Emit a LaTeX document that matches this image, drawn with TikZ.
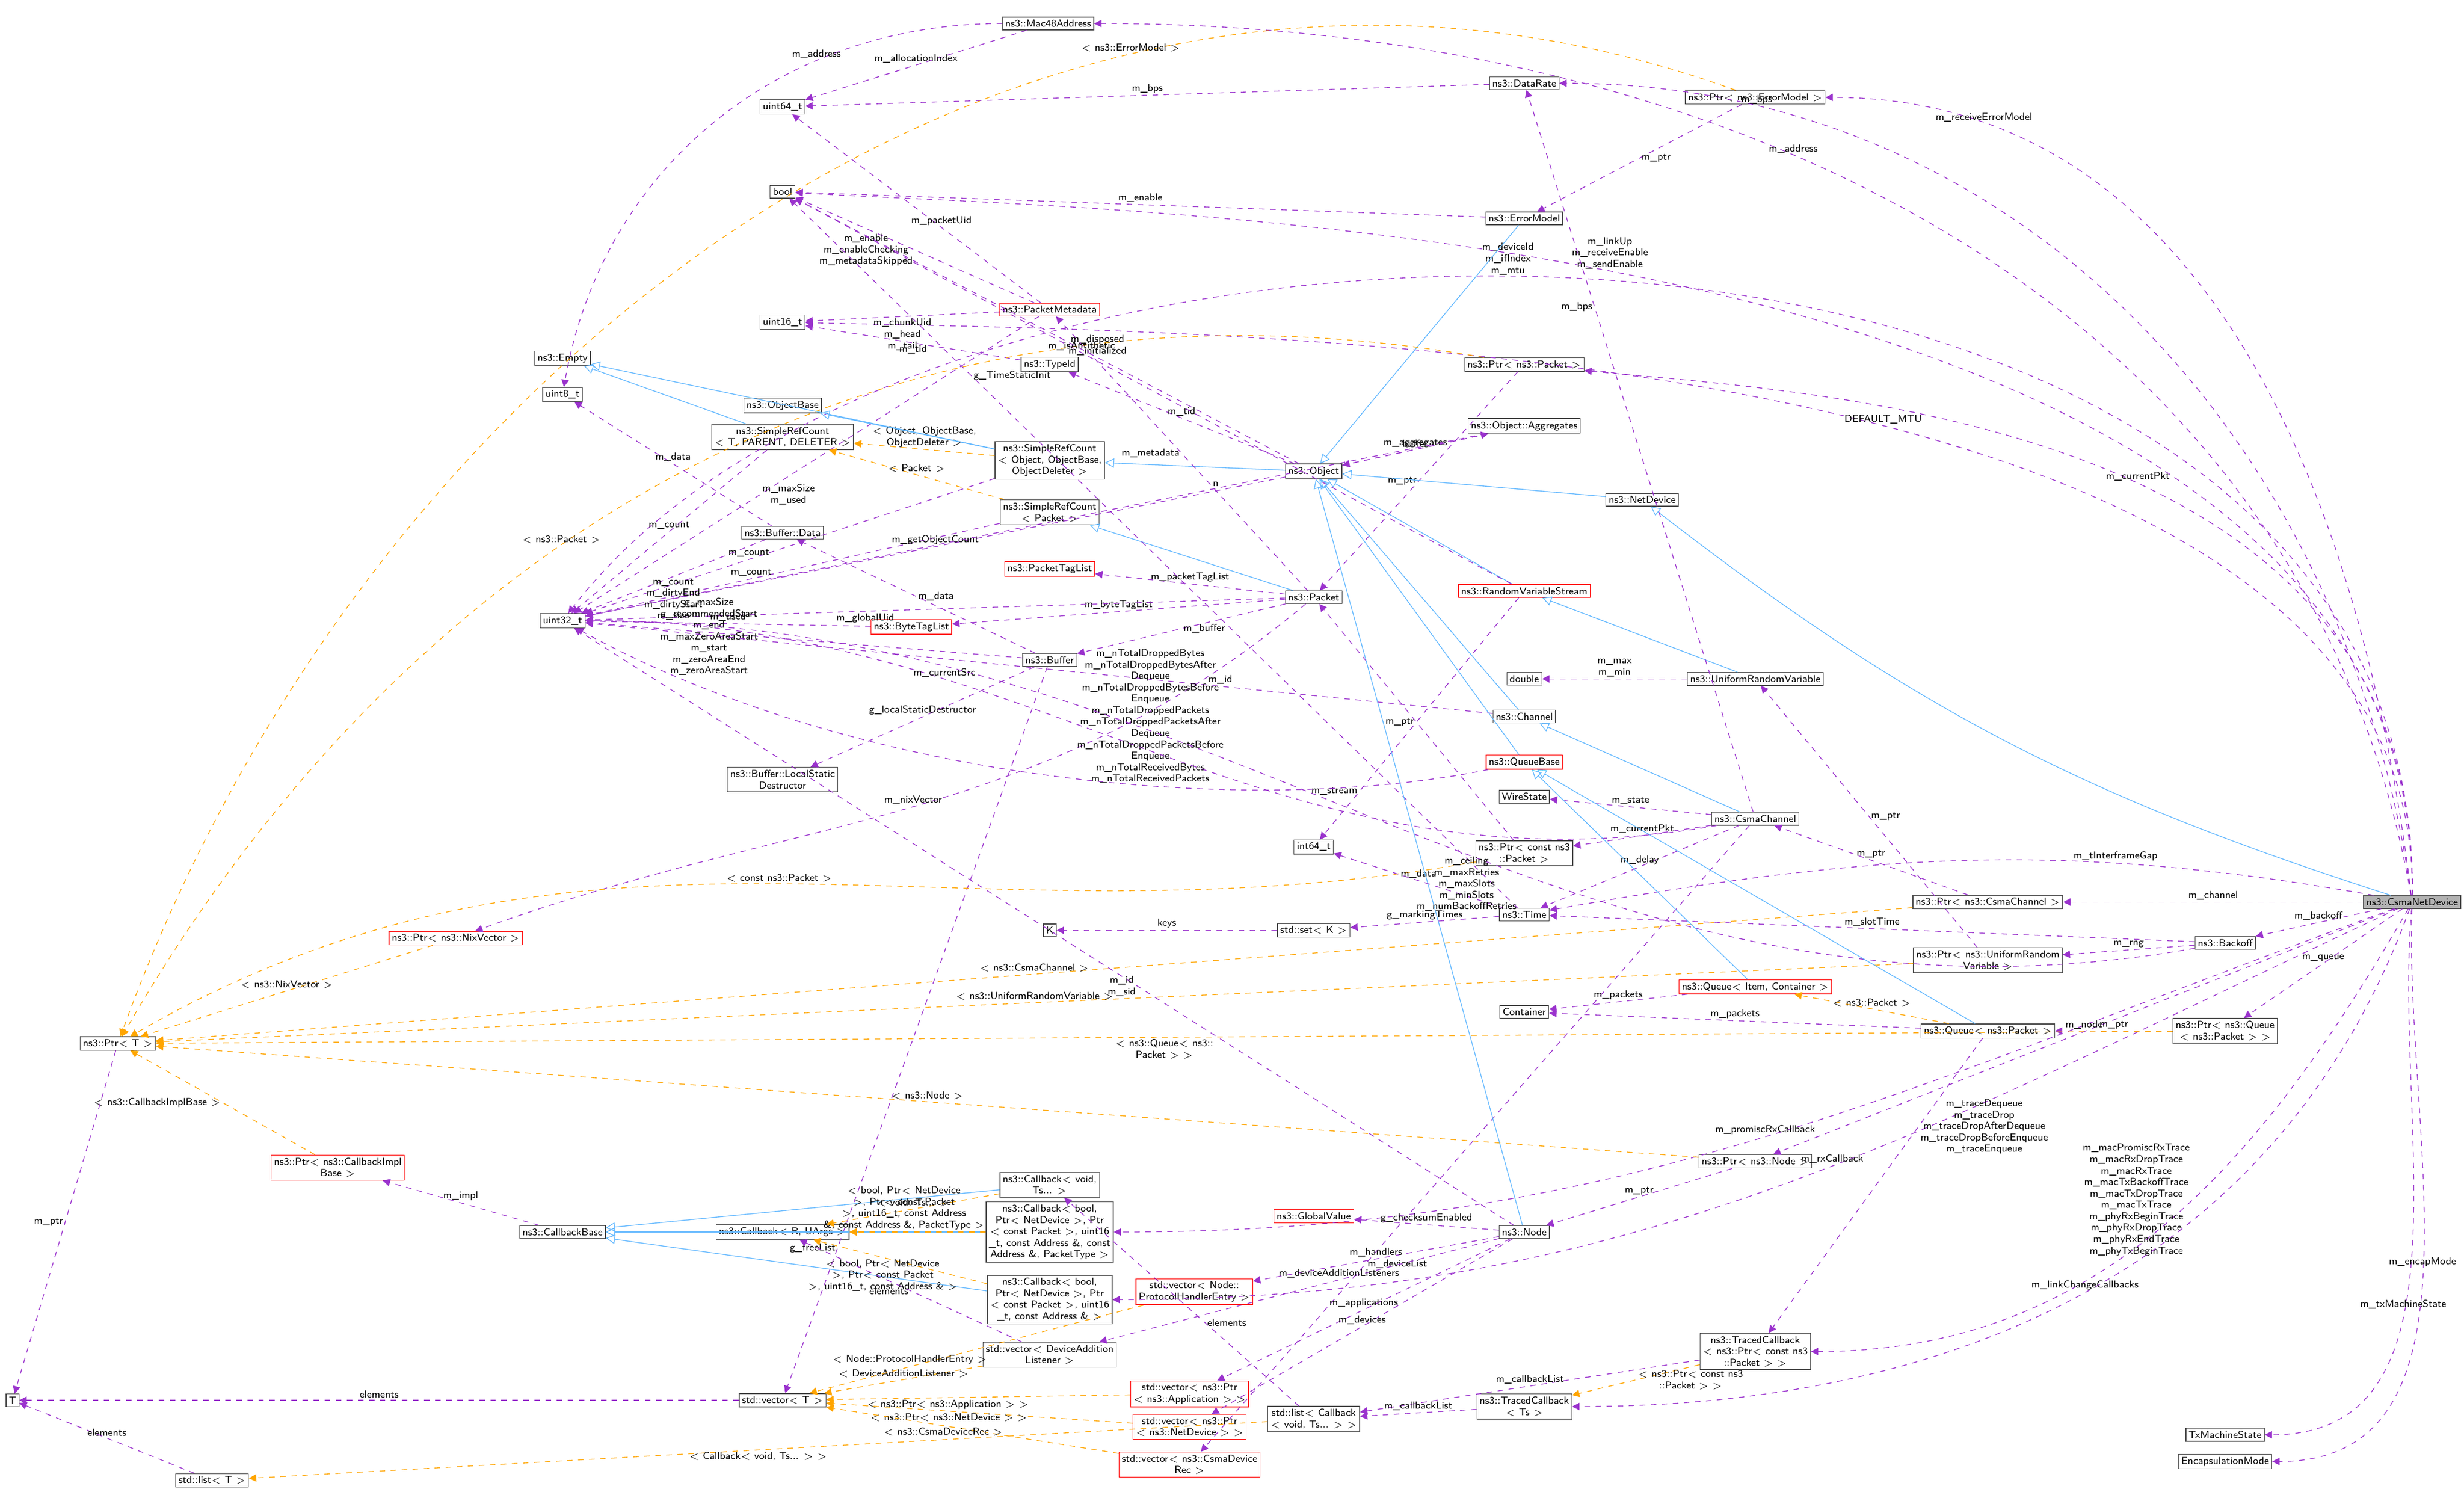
\documentclass[tikz,border=0pt]{standalone}
\usepackage{tikz}
\usetikzlibrary{arrows.meta}
\definecolor{usecol}{HTML}{9A32CD}
\definecolor{inhcol}{HTML}{63B8FF}
\definecolor{tplcol}{HTML}{FFA500}
\begin{document}
\begin{tikzpicture}[x=0.03cm,y=-0.03cm,
    cls/.style={draw=gray!60!black,rectangle,inner sep=1.5pt,align=center,thin,
                font=\sffamily\fontsize{5.5}{6.2}\selectfont},
    red cls/.style={cls,draw=red},
    lbl/.style={font=\sffamily\fontsize{5.5}{6.2}\selectfont,align=center,inner sep=1pt},
    use/.style={draw=usecol,dashed,-{Triangle[length=4pt,width=4pt]}},
    inh/.style={draw=inhcol,-{Triangle[open,length=5pt,width=5pt]}},
    tpl/.style={draw=tplcol,dashed,-{Triangle[length=4pt,width=4pt]}}]
  \useasboundingbox (0,0) rectangle (1568,957);

  % classes
  \node[cls,fill=gray!60] (csma) at (1535,574) {ns3::CsmaNetDevice};
  \node[cls] (mac) at (667,15) {ns3::Mac48Address};
  \node[cls] (rate) at (970,53) {ns3::DataRate};
  \node[cls] (perr) at (1117,62) {ns3::Ptr$<$ ns3::ErrorModel $>$};
  \node[cls] (u64) at (498,68) {uint64\_t};
  \node[cls] (bool) at (498,122) {bool};
  \node[cls] (err) at (970,139) {ns3::ErrorModel};
  \node[red cls] (meta) at (668,197) {ns3::PacketMetadata};
  \node[cls] (u16) at (498,205) {uint16\_t};
  \node[cls] (tid) at (668,232) {ns3::TypeId};
  \node[cls] (empty) at (358,228) {ns3::Empty};
  \node[cls] (ppkt) at (970,232) {ns3::Ptr$<$ ns3::Packet $>$};
  \node[cls] (u8) at (358,251) {uint8\_t};
  \node[cls] (objbase) at (498,258) {ns3::ObjectBase};
  \node[cls] (srct) at (498,278) {ns3::SimpleRefCount\\$<$ T, PARENT, DELETER $>$};
  \node[cls] (srco) at (668,293) {ns3::SimpleRefCount\\$<$ Object, ObjectBase,\\ObjectDeleter $>$};
  \node[cls] (obj) at (836,300) {ns3::Object};
  \node[cls] (aggr) at (970,271) {ns3::Object::Aggregates};
  \node[cls] (netdev) at (1045,318) {ns3::NetDevice};
  \node[cls] (srcp) at (668,326) {ns3::SimpleRefCount\\$<$ Packet $>$};
  \node[cls] (bdata) at (498,339) {ns3::Buffer::Data};
  \node[red cls] (ptl) at (668,362) {ns3::PacketTagList};
  \node[cls] (pkt) at (836,380) {ns3::Packet};
  \node[red cls] (rvs) at (970,376) {ns3::RandomVariableStream};
  \node[cls] (u32) at (358,395) {uint32\_t};
  \node[red cls] (btl) at (580,399) {ns3::ByteTagList};
  \node[cls] (buf) at (668,420) {ns3::Buffer};
  \node[cls] (dbl) at (970,432) {double};
  \node[cls] (urv) at (1117,432) {ns3::UniformRandomVariable};
  \node[cls] (chan) at (970,456) {ns3::Channel};
  \node[red cls] (qbase) at (970,485) {ns3::QueueBase};
  \node[cls] (lsd) at (498,496) {ns3::Buffer::LocalStatic\\Destructor};
  \node[cls] (wire) at (970,507) {WireState};
  \node[cls] (cchan) at (1117,521) {ns3::CsmaChannel};
  \node[cls] (i64) at (836,539) {int64\_t};
  \node[cls] (pcpkt) at (970,543) {ns3::Ptr$<$ const ns3\\::Packet $>$};
  \node[cls] (time) at (970,582) {ns3::Time};
  \node[cls] (pcchan) at (1265,574) {ns3::Ptr$<$ ns3::CsmaChannel $>$};
  \node[cls] (k) at (668,592) {K};
  \node[cls] (setk) at (836,592) {std::set$<$ K $>$};
  \node[red cls] (pnix) at (290,597) {ns3::Ptr$<$ ns3::NixVector $>$};
  \node[cls] (backoff) at (1416,600) {ns3::Backoff};
  \node[cls] (purv) at (1265,611) {ns3::Ptr$<$ ns3::UniformRandom\\Variable $>$};
  \node[red cls] (qic) at (1117,628) {ns3::Queue$<$ Item, Container $>$};
  \node[cls] (ptrt) at (75,664) {ns3::Ptr$<$ T $>$};
  \node[cls] (cont) at (970,644) {Container};
  \node[cls] (qpkt) at (1265,656) {ns3::Queue$<$ ns3::Packet $>$};
  \node[cls] (pq) at (1416,656) {ns3::Ptr$<$ ns3::Queue\\$<$ ns3::Packet $>$ $>$};
  \node[cls] (pnode) at (1117,739) {ns3::Ptr$<$ ns3::Node $>$};
  \node[red cls] (pcib) at (215,743) {ns3::Ptr$<$ ns3::CallbackImpl\\Base $>$};
  \node[cls] (cbv) at (668,754) {ns3::Callback$<$ void,\\Ts... $>$};
  \node[red cls] (gval) at (836,774) {ns3::GlobalValue};
  \node[cls] (cbase) at (358,784) {ns3::CallbackBase};
  \node[cls] (cbr) at (498,784) {ns3::Callback$<$ R, UArgs $>$};
  \node[cls] (cbpt) at (668,784) {ns3::Callback$<$ bool,\\Ptr$<$ NetDevice $>$, Ptr\\$<$ const Packet $>$, uint16\\\_t, const Address \&, const\\Address \&, PacketType $>$};
  \node[cls] (node) at (970,784) {ns3::Node};
  \node[red cls] (vph) at (760,822) {std::vector$<$ Node::\\ProtocolHandlerEntry $>$};
  \node[cls] (cbad) at (668,827) {ns3::Callback$<$ bool,\\Ptr$<$ NetDevice $>$, Ptr\\$<$ const Packet $>$, uint16\\\_t, const Address \& $>$};
  \node[cls] (vdal) at (668,862) {std::vector$<$ DeviceAddition\\Listener $>$};
  \node[cls] (tcp) at (1117,860) {ns3::TracedCallback\\$<$ ns3::Ptr$<$ const ns3\\::Packet $>$ $>$};
  \node[red cls] (vapp) at (757,887) {std::vector$<$ ns3::Ptr\\$<$ ns3::Application $>$ $>$};
  \node[cls] (vect) at (498,891) {std::vector$<$ T $>$};
  \node[cls] (t) at (8,891) {T};
  \node[cls] (tcts) at (970,895) {ns3::TracedCallback\\$<$ Ts $>$};
  \node[cls] (lcb) at (836,903) {std::list$<$ Callback\\$<$ void, Ts... $>$ $>$};
  \node[red cls] (vdev) at (757,908) {std::vector$<$ ns3::Ptr\\$<$ ns3::NetDevice $>$ $>$};
  \node[red cls] (vrec) at (757,932) {std::vector$<$ ns3::CsmaDevice\\Rec $>$};
  \node[cls] (listt) at (135,942) {std::list$<$ T $>$};
  \node[cls] (txms) at (1416,913) {TxMachineState};
  \node[cls] (encap) at (1416,930) {EncapsulationMode};

  % CsmaNetDevice members
  \draw[inh] (csma) to[bend left=10] (netdev);
  \draw[use] (csma) to[out=100,in=0] node[lbl,pos=0.6,above] {m\_address} (mac);
  \draw[use] (csma) to[out=98,in=0] node[lbl,pos=0.85,above] {m\_bps} (rate);
  \draw[use] (csma) to[out=97,in=0] node[lbl,pos=0.85,above] {m\_receiveErrorModel} (perr);
  \draw[use] (csma) .. controls (1540,80) and (600,80) .. node[lbl,pos=0.55,above] {m\_deviceId\\m\_ifIndex\\m\_mtu} (u32);
  \draw[use] (csma) .. controls (1540,135) and (700,135) .. node[lbl,pos=0.55,above] {m\_linkUp\\m\_receiveEnable\\m\_sendEnable} (bool);
  \draw[use] (csma) .. controls (1540,212) and (800,212) .. node[lbl,pos=0.45,above] {DEFAULT\_MTU} (u16);
  \draw[use] (csma) .. controls (1540,264) and (1150,250) .. node[lbl,pos=0.45,above] {m\_currentPkt} (ppkt);
  \draw[use] (csma) to[out=170,in=10] node[lbl,pos=0.3,above] {m\_tInterframeGap} (time);
  \draw[use] (csma) -- node[lbl,above] {m\_channel} (pcchan);
  \draw[use] (csma) -- node[lbl,above] {m\_backoff} (backoff);
  \draw[use] (csma) -- node[lbl,above] {m\_queue} (pq);
  \draw[use] (csma) to[out=200,in=0] node[lbl,pos=0.5,above] {m\_promiscRxCallback} (cbpt);
  \draw[use] (csma) -- node[lbl,above] {m\_node} (pnode);
  \draw[use] (csma) to[out=205,in=0] node[lbl,pos=0.45,above] {m\_rxCallback} (cbad);
  \draw[use] (csma) to[out=240,in=0] node[lbl,pos=0.45,left] {m\_macPromiscRxTrace\\m\_macRxDropTrace\\m\_macRxTrace\\m\_macTxBackoffTrace\\m\_macTxDropTrace\\m\_macTxTrace\\m\_phyRxBeginTrace\\m\_phyRxDropTrace\\m\_phyRxEndTrace\\m\_phyTxBeginTrace} (tcp);
  \draw[use] (csma) to[out=250,in=0] node[lbl,pos=0.5,above] {m\_linkChangeCallbacks} (tcts);
  \draw[use] (csma) to[out=265,in=0] node[lbl,pos=0.6,above] {m\_txMachineState} (txms);
  \draw[use] (csma) to[out=268,in=0] node[lbl,pos=0.5,above] {m\_encapMode} (encap);

  % upper part
  \draw[use] (mac) to[out=180,in=80] node[lbl,pos=0.3,above] {m\_address} (u8);
  \draw[use] (mac) -- node[lbl,above] {m\_allocationIndex} (u64);
  \draw[use] (rate) -- node[lbl,above] {m\_bps} (u64);
  \draw[use] (perr) -- node[lbl,right] {m\_ptr} (err);
  \draw[tpl] (perr) to[out=160,in=70] node[lbl,pos=0.3,above] {$<$ ns3::ErrorModel $>$} (ptrt);
  \draw[use] (err) -- node[lbl,above] {m\_enable} (bool);
  \draw[inh] (err) -- (obj);
  \draw[use] (meta) -- node[lbl,left] {m\_enable\\m\_enableChecking\\m\_metadataSkipped} (bool);
  \draw[use] (meta) -- node[lbl,above,pos=0.4] {m\_packetUid} (u64);
  \draw[use] (meta) -- node[lbl,below] {m\_chunkUid\\m\_head\\m\_tail} (u16);
  \draw[use] (meta) -- node[lbl,right,pos=0.6] {m\_maxSize\\m\_used} (u32);
  \draw[use] (tid) -- node[lbl,below] {m\_tid} (u16);
  \draw[use] (ppkt) -- node[lbl,left] {m\_ptr} (pkt);
  \draw[tpl] (ppkt) to[out=170,in=60] node[lbl,pos=0.6,above] {$<$ ns3::Packet $>$} (ptrt);
  \draw[inh] (srct) -- (empty);
  \draw[use] (srct) -- node[lbl,above] {m\_count} (u32);
  \draw[tpl] (srco) -- node[lbl,above] {$<$ Object, ObjectBase,\\ObjectDeleter $>$} (srct);
  \draw[inh] (srco) -- (objbase);
  \draw[inh] (srco) -- (empty);
  \draw[use] (srco) -- node[lbl,above,pos=0.6] {m\_count} (u32);
  \draw[tpl] (srcp) -- node[lbl,above] {$<$ Packet $>$} (srct);
  \draw[use] (srcp) -- node[lbl,above,pos=0.6] {m\_count} (u32);
  \draw[inh] (obj) -- (srco);
  \draw[use] (obj) -- node[lbl,above,pos=0.4] {m\_disposed\\m\_initialized} (bool);
  \draw[use] (obj) -- node[lbl,above] {m\_tid} (tid);
  \draw[use] (obj) -- node[lbl,above] {m\_aggregates} (aggr);
  \draw[use] (obj) -- node[lbl,above,pos=0.5] {m\_getObjectCount} (u32);
  \draw[use] (aggr) -- node[lbl,above] {buffer} (obj);
  \draw[use] (aggr) -- node[lbl,above,pos=0.3] {n} (u32);
  \draw[inh] (netdev) -- (obj);
  \draw[use] (bdata) -- node[lbl,above] {m\_data} (u8);
  \draw[use] (bdata) -- node[lbl,below] {m\_count\\m\_dirtyEnd\\m\_dirtyStart\\m\_size} (u32);

  % packet and buffers
  \draw[inh] (pkt) -- (srcp);
  \draw[use] (pkt) -- node[lbl,above] {m\_packetTagList} (ptl);
  \draw[use] (pkt) -- node[lbl,above] {m\_byteTagList} (btl);
  \draw[use] (pkt) -- node[lbl,right] {m\_buffer} (buf);
  \draw[use] (pkt) -- node[lbl,left] {m\_metadata} (meta);
  \draw[use] (pkt) -- node[lbl,below,pos=0.6] {m\_globalUid} (u32);
  \draw[use] (pkt) to[out=220,in=20] node[lbl,pos=0.5,above] {m\_nixVector} (pnix);
  \draw[use] (btl) -- node[lbl,above] {m\_used} (u32);
  \draw[use] (buf) -- node[lbl,right] {m\_data} (bdata);
  \draw[use] (buf) -- node[lbl,left,pos=0.6] {g\_maxSize\\g\_recommendedStart\\m\_end\\m\_maxZeroAreaStart\\m\_start\\m\_zeroAreaEnd\\m\_zeroAreaStart} (u32);
  \draw[use] (buf) -- node[lbl,above] {g\_localStaticDestructor} (lsd);
  \draw[use] (buf) -- node[lbl,left,pos=0.8] {g\_freeList} (vect);
  \draw[inh] (rvs) -- (obj);
  \draw[use] (rvs) -- node[lbl,above,pos=0.6] {m\_isAntithetic} (bool);
  \draw[use] (rvs) -- node[lbl,left,pos=0.8] {m\_stream} (i64);
  \draw[inh] (urv) -- (rvs);
  \draw[use] (urv) -- node[lbl,above] {m\_max\\m\_min} (dbl);
  \draw[inh] (chan) -- (obj);
  \draw[use] (chan) -- node[lbl,above,pos=0.3] {m\_id} (u32);
  \draw[inh] (qbase) -- (obj);
  \draw[use] (qbase) .. controls (800,520) and (550,500) .. node[lbl,pos=0.4,above] {m\_nTotalDroppedBytes\\m\_nTotalDroppedBytesAfter\\Dequeue\\m\_nTotalDroppedBytesBefore\\Enqueue\\m\_nTotalDroppedPackets\\m\_nTotalDroppedPacketsAfter\\Dequeue\\m\_nTotalDroppedPacketsBefore\\Enqueue\\m\_nTotalReceivedBytes\\m\_nTotalReceivedPackets} (u32);

  % channel side
  \draw[inh] (cchan) -- (chan);
  \draw[use] (cchan) -- node[lbl,above] {m\_state} (wire);
  \draw[use] (cchan) -- node[lbl,above] {m\_currentPkt} (pcpkt);
  \draw[use] (cchan) -- node[lbl,above] {m\_delay} (time);
  \draw[use] (cchan) -- node[lbl,left,pos=0.7] {m\_bps} (rate);
  \draw[use] (cchan) to[out=190,in=0] node[lbl,pos=0.7,above] {m\_currentSrc} (u32);
  \draw[use] (cchan) -- node[lbl,right,pos=0.7] {m\_deviceList} (vrec);
  \draw[use] (pcpkt) -- node[lbl,left] {m\_ptr} (pkt);
  \draw[tpl] (pcpkt) to[out=190,in=30] node[lbl,pos=0.5,above] {$<$ const ns3::Packet $>$} (ptrt);
  \draw[use] (time) -- node[lbl,above] {m\_data} (i64);
  \draw[use] (time) -- node[lbl,above] {g\_markingTimes} (setk);
  \draw[use] (time) -- node[lbl,right,pos=0.75] {g\_TimeStaticInit} (bool);
  \draw[use] (setk) -- node[lbl,above] {keys} (k);
  \draw[use] (pcchan) -- node[lbl,above] {m\_ptr} (cchan);
  \draw[tpl] (pcchan) -- node[lbl,pos=0.5,above] {$<$ ns3::CsmaChannel $>$} (ptrt);
  \draw[use] (backoff) -- node[lbl,above] {m\_slotTime} (time);
  \draw[use] (backoff) -- node[lbl,above] {m\_rng} (purv);
  \draw[use] (backoff) to[out=190,in=0] node[lbl,pos=0.45,below] {m\_ceiling\\m\_maxRetries\\m\_maxSlots\\m\_minSlots\\m\_numBackoffRetries} (u32);
  \draw[use] (purv) -- node[lbl,right] {m\_ptr} (urv);
  \draw[tpl] (purv) -- node[lbl,pos=0.5,above] {$<$ ns3::UniformRandomVariable $>$} (ptrt);
  \draw[inh] (qic) -- (qbase);
  \draw[use] (qic) -- node[lbl,above] {m\_packets} (cont);
  \draw[tpl] (qpkt) -- node[lbl,above] {$<$ ns3::Packet $>$} (qic);
  \draw[use] (qpkt) -- node[lbl,above] {m\_packets} (cont);
  \draw[inh] (qpkt) -- (qbase);
  \draw[use] (qpkt) -- node[lbl,right,pos=0.3] {m\_traceDequeue\\m\_traceDrop\\m\_traceDropAfterDequeue\\m\_traceDropBeforeEnqueue\\m\_traceEnqueue} (tcp);
  \draw[use] (pq) -- node[lbl,above] {m\_ptr} (qpkt);
  \draw[tpl] (pq) -- node[lbl,pos=0.5,below] {$<$ ns3::Queue$<$ ns3::\\Packet $>$ $>$} (ptrt);
  \draw[tpl] (pnix) -- node[lbl,above] {$<$ ns3::NixVector $>$} (ptrt);
  \draw[use] (ptrt) -- node[lbl,left] {m\_ptr} (t);

  % node and callbacks
  \draw[use] (pnode) -- node[lbl,above] {m\_ptr} (node);
  \draw[tpl] (pnode) -- node[lbl,pos=0.5,above] {$<$ ns3::Node $>$} (ptrt);
  \draw[tpl] (pcib) -- node[lbl,left] {$<$ ns3::CallbackImplBase $>$} (ptrt);
  \draw[use] (cbase) -- node[lbl,above] {m\_impl} (pcib);
  \draw[inh] (cbr) -- (cbase);
  \draw[inh] (cbv) -- (cbase);
  \draw[tpl] (cbv) -- node[lbl,above] {$<$ void, Ts... $>$} (cbr);
  \draw[inh] (cbpt) -- (cbase);
  \draw[tpl] (cbpt) -- node[lbl,above,pos=0.6] {$<$ bool, Ptr$<$ NetDevice\\$>$, Ptr$<$ const Packet\\$>$, uint16\_t, const Address\\\&, const Address \&, PacketType $>$} (cbr);
  \draw[inh] (cbad) -- (cbase);
  \draw[tpl] (cbad) -- node[lbl,below,pos=0.6] {$<$ bool, Ptr$<$ NetDevice\\$>$, Ptr$<$ const Packet \\$>$, uint16\_t, const Address \& $>$} (cbr);
  \draw[inh] (node) -- (obj);
  \draw[use] (node) -- node[lbl,above] {g\_checksumEnabled} (gval);
  \draw[use] (node) -- node[lbl,above] {m\_handlers} (vph);
  \draw[use] (node) -- node[lbl,above] {m\_applications} (vapp);
  \draw[use] (node) -- node[lbl,above] {m\_devices} (vdev);
  \draw[use] (node) -- node[lbl,above,pos=0.4] {m\_deviceAdditionListeners} (vdal);
  \draw[use] (node) -- node[lbl,left,pos=0.4] {m\_id\\m\_sid} (u32);
  \draw[use] (vdal) -- node[lbl,left] {elements} (cbr);
  \draw[tpl] (vdal) -- node[lbl,above] {$<$ DeviceAdditionListener $>$} (vect);
  \draw[tpl] (vph) -- node[lbl,above,pos=0.7] {$<$ Node::ProtocolHandlerEntry $>$} (vect);
  \draw[tpl] (vapp) -- node[lbl,below,pos=0.6] {$<$ ns3::Ptr$<$ ns3::Application $>$ $>$} (vect);
  \draw[tpl] (vdev) -- node[lbl,below,pos=0.6] {$<$ ns3::Ptr$<$ ns3::NetDevice $>$ $>$} (vect);
  \draw[tpl] (vrec) -- node[lbl,below,pos=0.6] {$<$ ns3::CsmaDeviceRec $>$} (vect);
  \draw[use] (vect) -- node[lbl,above] {elements} (t);
  \draw[use] (listt) -- node[lbl,above] {elements} (t);
  \draw[tpl] (tcp) -- node[lbl,right] {$<$ ns3::Ptr$<$ const ns3\\::Packet $>$ $>$} (tcts);
  \draw[use] (tcp) -- node[lbl,above] {m\_callbackList} (lcb);
  \draw[use] (tcts) -- node[lbl,above] {m\_callbackList} (lcb);
  \draw[use] (lcb) -- node[lbl,right,pos=0.4] {elements} (cbv);
  \draw[tpl] (lcb) -- node[lbl,pos=0.5,below] {$<$ Callback$<$ void, Ts... $>$ $>$} (listt);
\end{tikzpicture}
\end{document}
